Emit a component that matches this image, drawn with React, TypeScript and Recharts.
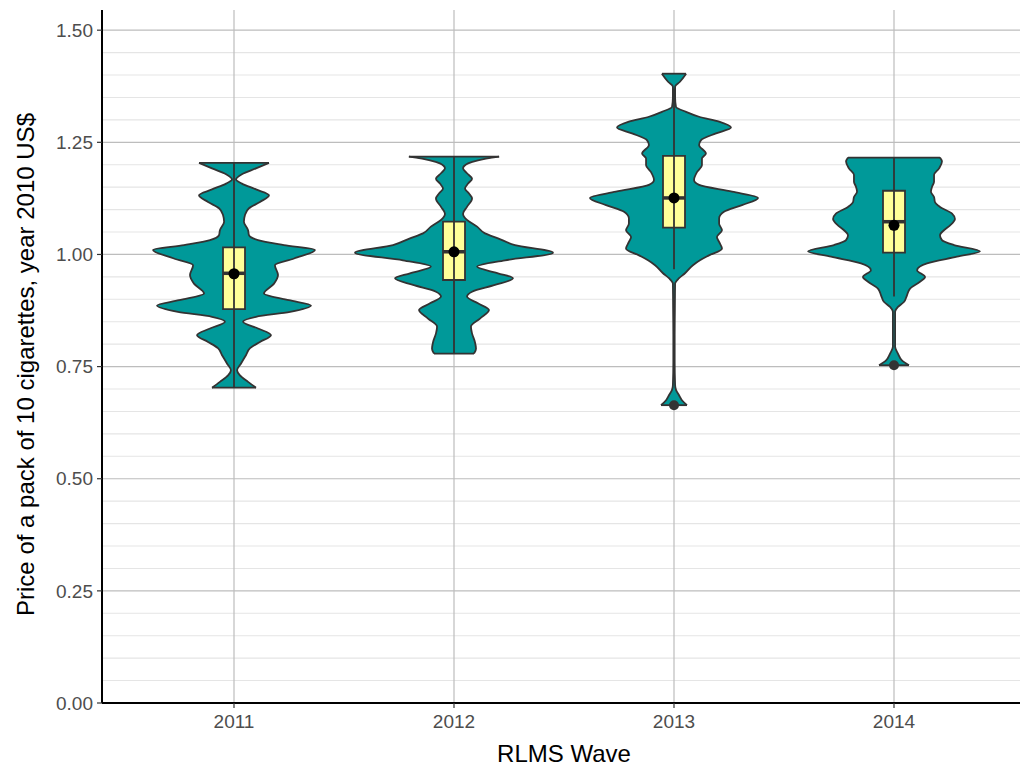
import React from 'react';
import { ComposedChart, Area, XAxis, YAxis, CartesianGrid, ReferenceLine, ReferenceArea, Scatter } from 'recharts';

const waves = ['2011', '2012', '2013', '2014'];

// violin outlines, bottom to top: [price, half width in category units]
const violin2011: [number, number][] = [
  [0.703, 0.1], [0.716, 0.064], [0.731, 0.026], [0.742, 0.014], [0.757, 0.032], [0.776, 0.055],
  [0.791, 0.073], [0.805, 0.118], [0.82, 0.168], [0.835, 0.109], [0.85, 0.041], [0.861, 0.1],
  [0.872, 0.255], [0.886, 0.35], [0.898, 0.25], [0.913, 0.136], [0.935, 0.182], [0.954, 0.2],
  [0.976, 0.186], [0.991, 0.273], [1.01, 0.368], [1.021, 0.227], [1.032, 0.109], [1.043, 0.068],
  [1.054, 0.064], [1.073, 0.045], [1.088, 0.05], [1.103, 0.068], [1.117, 0.118], [1.132, 0.159],
  [1.145, 0.1], [1.158, 0.036], [1.167, 0.009], [1.179, 0.036], [1.192, 0.1], [1.204, 0.159],
];

const violin2012: [number, number][] = [
  [0.779, 0.091], [0.79, 0.1], [0.805, 0.095], [0.824, 0.082], [0.839, 0.077], [0.857, 0.118],
  [0.876, 0.159], [0.891, 0.109], [0.906, 0.059], [0.917, 0.082], [0.932, 0.186], [0.947, 0.268],
  [0.958, 0.2], [0.973, 0.105], [0.987, 0.232], [1.004, 0.45], [1.021, 0.277], [1.036, 0.2],
  [1.047, 0.141], [1.062, 0.105], [1.077, 0.059], [1.091, 0.041], [1.106, 0.059], [1.125, 0.082],
  [1.136, 0.068], [1.147, 0.05], [1.158, 0.064], [1.169, 0.082], [1.181, 0.059], [1.192, 0.041],
  [1.203, 0.064], [1.21, 0.109], [1.218, 0.205],
];

const violin2013: [number, number][] = [
  [0.664, 0.059], [0.675, 0.036], [0.686, 0.023], [0.698, 0.009], [0.709, 0.005], [0.76, 0.003],
  [0.82, 0.003], [0.88, 0.004], [0.935, 0.005], [0.947, 0.023], [0.958, 0.05], [0.976, 0.086],
  [0.987, 0.118], [0.998, 0.159], [1.013, 0.218], [1.028, 0.205], [1.039, 0.195], [1.054, 0.218],
  [1.069, 0.205], [1.08, 0.205], [1.095, 0.227], [1.11, 0.309], [1.126, 0.382], [1.14, 0.264],
  [1.155, 0.114], [1.166, 0.091], [1.184, 0.105], [1.199, 0.127], [1.214, 0.127], [1.225, 0.145],
  [1.244, 0.114], [1.255, 0.123], [1.27, 0.191], [1.283, 0.259], [1.296, 0.205], [1.307, 0.114],
  [1.318, 0.055], [1.329, 0.009], [1.35, 0.005], [1.374, 0.005], [1.385, 0.027], [1.403, 0.055],
];

const violin2014: [number, number][] = [
  [0.753, 0.068], [0.764, 0.036], [0.779, 0.018], [0.794, 0.005], [0.83, 0.005], [0.872, 0.005],
  [0.883, 0.018], [0.894, 0.045], [0.909, 0.059], [0.924, 0.073], [0.939, 0.118], [0.95, 0.141],
  [0.965, 0.105], [0.98, 0.15], [0.995, 0.286], [1.007, 0.391], [1.021, 0.273], [1.032, 0.218],
  [1.043, 0.209], [1.054, 0.227], [1.065, 0.255], [1.079, 0.277], [1.091, 0.264], [1.106, 0.209],
  [1.117, 0.186], [1.128, 0.182], [1.14, 0.168], [1.151, 0.173], [1.162, 0.182], [1.177, 0.182],
  [1.192, 0.205], [1.207, 0.218], [1.216, 0.209],
];

const violins = [violin2011, violin2012, violin2013, violin2014];

// box plot stats per wave
const q1 = [0.878, 0.943, 1.06, 1.004];
const medians = [0.958, 1.006, 1.126, 1.073];
const q3 = [1.016, 1.073, 1.22, 1.142];
const whiskerLow = [0.703, 0.779, 0.967, 0.906];
const whiskerHigh = [1.204, 1.218, 1.37, 1.216];
const means = [0.957, 1.006, 1.126, 1.065];
const outlierWave = [3, 4];
const outlierPrice = [0.664, 0.753];

const yTicks = [0, 0.25, 0.5, 0.75, 1, 1.25, 1.5];
const yMinor = [0.05, 0.1, 0.15, 0.2, 0.3, 0.35, 0.4, 0.45, 0.55, 0.6, 0.65, 0.7, 0.8, 0.85, 0.9, 0.95,
  1.05, 1.1, 1.15, 1.2, 1.3, 1.35, 1.4, 1.45];

const BOX_HALF = 0.05;
const keys = ['v1', 'v2', 'v3', 'v4'];

// one table, one row per price level, each violin only fills its own rows
const rowMap = new Map<number, any>();
violins.forEach((pts, i) => {
  pts.forEach(([y, w]) => {
    const row = rowMap.get(y) ?? { y };
    row[keys[i]] = [i + 1 - w, i + 1 + w];
    rowMap.set(y, row);
  });
});
const table = Array.from(rowMap.values())
  .sort((a, b) => a.y - b.y)
  .map((r) => {
    keys.forEach((k) => {
      if (!r[k]) r[k] = [null, null];
    });
    return r;
  });

const meanData = means.map((m, i) => ({ x: i + 1, y: m }));
const outlierData = outlierWave.map((w, i) => ({ x: w, y: outlierPrice[i] }));

const EDGE = '#333333';
const LW = 1.8;
const FONT = '"Liberation Sans", Arial, Helvetica, sans-serif';

export default function App() {
  return (
    <div style={{ position: 'absolute', left: 0, top: 0, width: 1020, height: 766, overflow: 'hidden', background: '#fff', fontFamily: FONT }}>
      <ComposedChart width={1030} height={766} data={table} layout="vertical" margin={{ top: 10, right: 4, bottom: 0, left: 0 }}>
        <CartesianGrid horizontalValues={yMinor} vertical={false} syncWithTicks stroke="#e5e5e5" strokeWidth={1.1} />
        <CartesianGrid syncWithTicks stroke="#bdbdbd" strokeWidth={1.2} />
        <XAxis
          type="number"
          domain={[0.4, 4.6]}
          ticks={[1, 2, 3, 4]}
          interval={0}
          allowDataOverflow
          tickFormatter={(v: number) => waves[v - 1]}
          height={63}
          tickSize={5}
          tickMargin={7}
          tick={{ fill: '#4d4d4d', fontSize: 19 }}
          tickLine={{ stroke: EDGE, strokeWidth: 1.2 }}
          axisLine={{ stroke: '#000', strokeWidth: 2 }}
          label={{ value: 'RLMS Wave', position: 'insideBottom', offset: 4, fill: '#000', fontSize: 24 }}
        />
        <YAxis
          type="number"
          dataKey="y"
          domain={[0, 1.545]}
          ticks={yTicks}
          interval={0}
          reversed
          allowDataOverflow
          tickFormatter={(v: number) => v.toFixed(2)}
          width={102}
          tickSize={5}
          tickMargin={4}
          tick={{ fill: '#4d4d4d', fontSize: 19 }}
          tickLine={{ stroke: EDGE, strokeWidth: 1.2 }}
          axisLine={{ stroke: '#000', strokeWidth: 2 }}
          label={{ value: 'Price of a pack of 10 cigarettes, year 2010 US$', angle: -90, position: 'center', dx: -26, dy: 8, fill: '#000', fontSize: 24 }}
        />
        {keys.map((k) => (
          <Area
            key={k}
            dataKey={k}
            type="monotone"
            connectNulls
            fill="#009999"
            fillOpacity={1}
            stroke={EDGE}
            strokeWidth={LW}
            dot={false}
            activeDot={false}
            isAnimationActive={false}
          />
        ))}
        {violins.map((pts, i) => {
          const [y0, w0] = pts[0];
          const [y1, w1] = pts[pts.length - 1];
          return (
            <React.Fragment key={'cap' + i}>
              <ReferenceLine segment={[{ x: i + 1 - w0, y: y0 }, { x: i + 1 + w0, y: y0 }]} stroke={EDGE} strokeWidth={LW} />
              <ReferenceLine segment={[{ x: i + 1 - w1, y: y1 }, { x: i + 1 + w1, y: y1 }]} stroke={EDGE} strokeWidth={LW} />
            </React.Fragment>
          );
        })}
        {waves.map((w, i) => (
          <ReferenceLine key={'wh' + w} segment={[{ x: i + 1, y: whiskerLow[i] }, { x: i + 1, y: whiskerHigh[i] }]} stroke={EDGE} strokeWidth={LW} />
        ))}
        {waves.map((w, i) => (
          <ReferenceArea
            key={'box' + w}
            x1={i + 1 - BOX_HALF}
            x2={i + 1 + BOX_HALF}
            y1={q1[i]}
            y2={q3[i]}
            fill="#ffff99"
            fillOpacity={1}
            stroke={EDGE}
            strokeWidth={LW}
          />
        ))}
        {waves.map((w, i) => (
          <ReferenceLine key={'md' + w} segment={[{ x: i + 1 - BOX_HALF, y: medians[i] }, { x: i + 1 + BOX_HALF, y: medians[i] }]} stroke={EDGE} strokeWidth={3.5} />
        ))}
        <Scatter
          data={outlierData}
          dataKey="x"
          isAnimationActive={false}
          shape={(p: any) => <circle cx={p.cx} cy={p.cy} r={5} fill={EDGE} />}
        />
        <Scatter
          data={meanData}
          dataKey="x"
          isAnimationActive={false}
          shape={(p: any) => <circle cx={p.cx} cy={p.cy} r={5.5} fill="#000" />}
        />
      </ComposedChart>
    </div>
  );
}
